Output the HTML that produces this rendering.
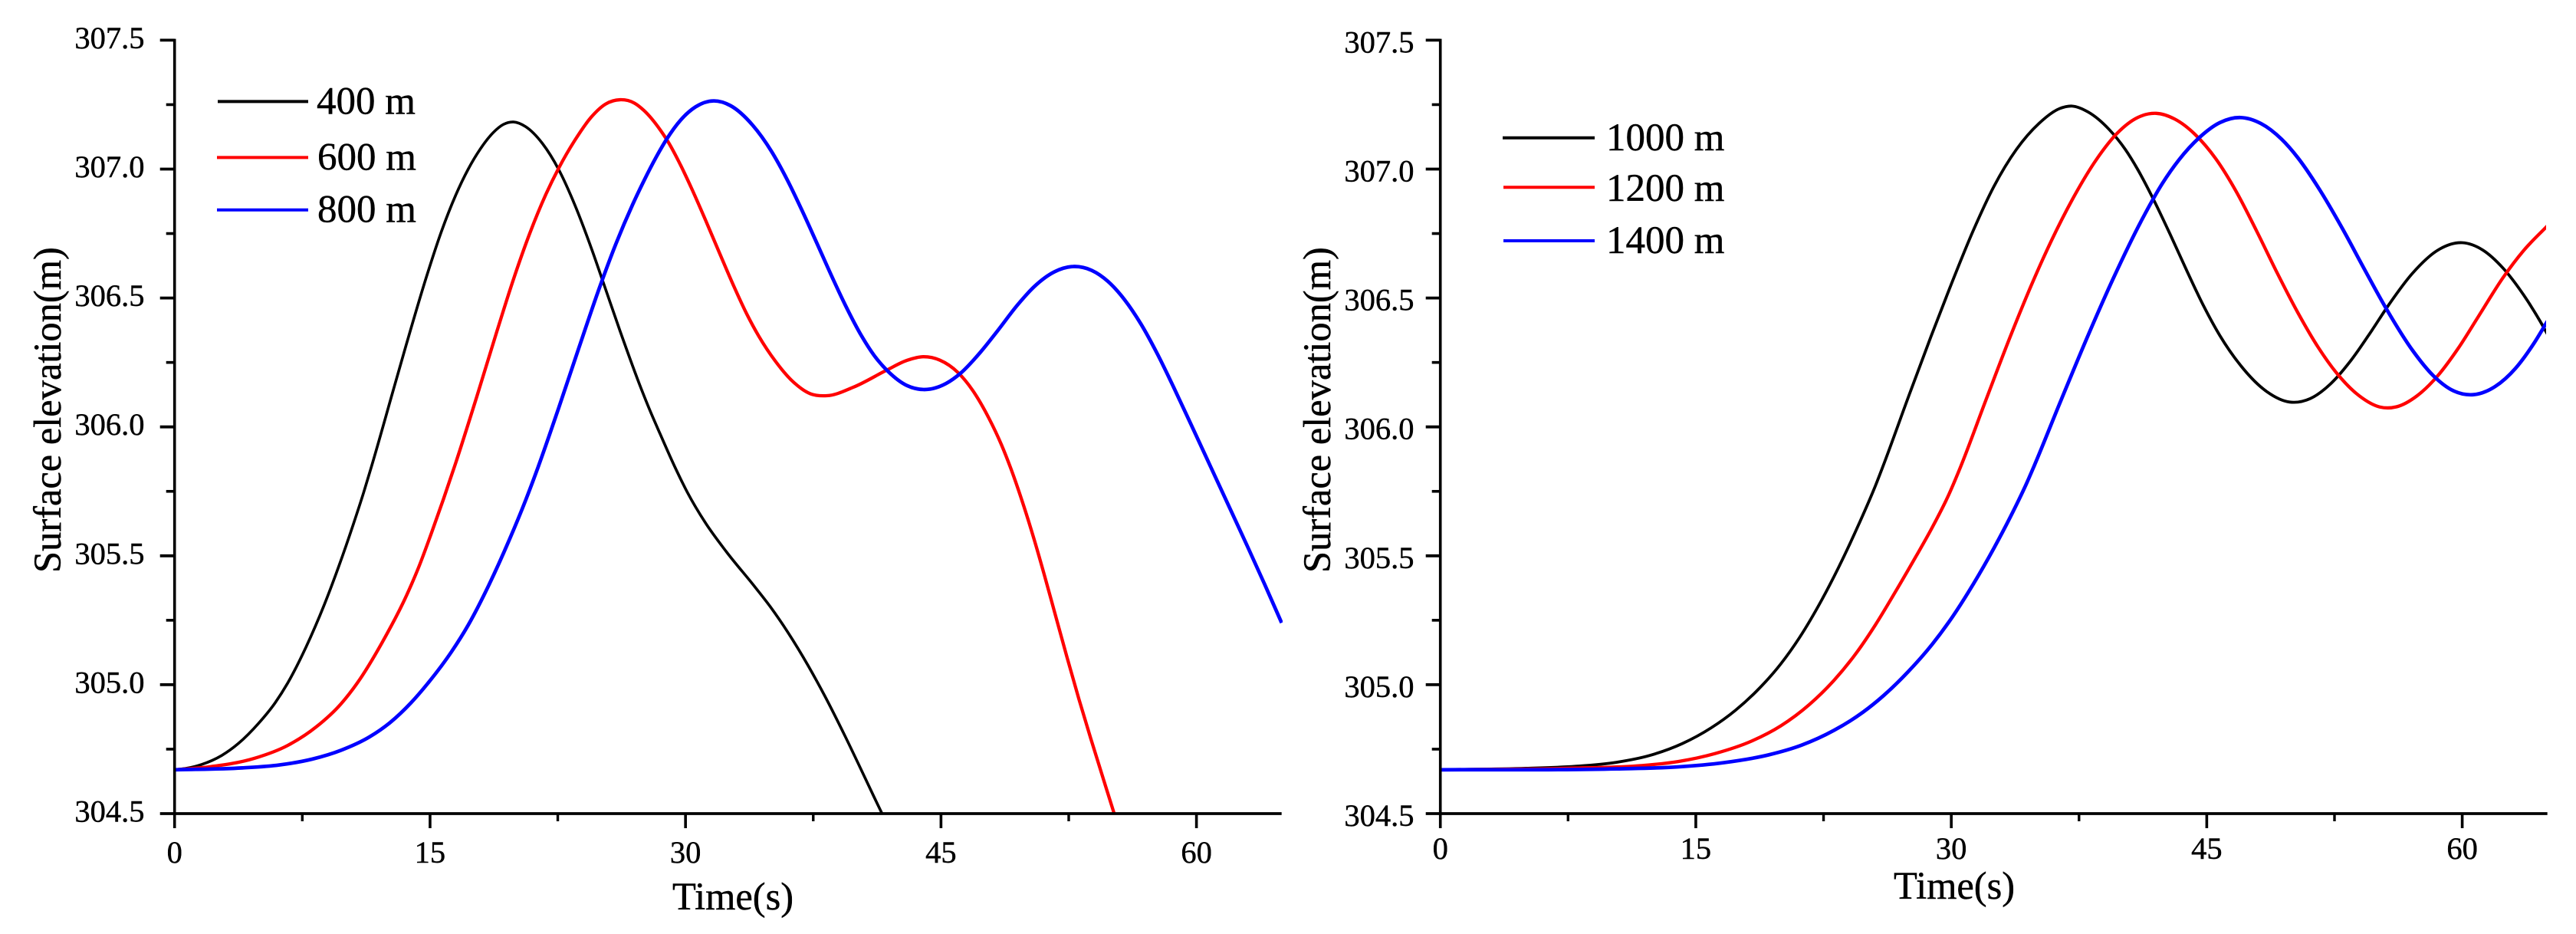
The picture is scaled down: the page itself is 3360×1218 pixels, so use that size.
<!DOCTYPE html>
<html lang="en">
<head>
<meta charset="utf-8">
<title>Surface elevation over time</title>
<style>
html,body{margin:0;padding:0;background:#fff;width:3360px;height:1218px;overflow:hidden}
svg{display:block}
text{font-family:"Liberation Serif","Times New Roman",serif;fill:#000;stroke:#000;stroke-width:0.45px}
.tick-label{font-size:40.5px}
.axis-title{font-size:50.5px}
.legend-label{font-size:51px}
</style>
</head>
<body>
<svg id="figure" width="3360" height="1218" viewBox="0 0 3360 1218" xmlns="http://www.w3.org/2000/svg">
  <rect x="0" y="0" width="3360" height="1218" fill="#fff"/>
  <defs>
    <clipPath id="clip-left"><rect x="226" y="50" width="1447" height="1013"/></clipPath>
    <clipPath id="clip-right"><rect x="1877" y="50" width="1444" height="1013"/></clipPath>
  </defs>
  <g id="panel-left">
    <g id="left-series" clip-path="url(#clip-left)"></g>
    <g id="left-axes"></g>
    <text class="axis-title" x="877" y="1186">Time(s)</text>
    <text class="axis-title" transform="translate(79 747) rotate(-90)">Surface elevation(m)</text>
    <g>
      <line x1="284" x2="402" y1="132.4" y2="132.4" stroke="#000" stroke-width="4"/>
      <text class="legend-label" x="413" y="148.5">400 m</text>
      <line x1="283" x2="402" y1="205.4" y2="205.4" stroke="#f00" stroke-width="4"/>
      <text class="legend-label" x="414" y="221.5">600 m</text>
      <line x1="283" x2="402" y1="273.8" y2="273.8" stroke="#00f" stroke-width="4"/>
      <text class="legend-label" x="414" y="289.5">800 m</text>
    </g>
  </g>
  <g id="panel-right">
    <g id="right-series" clip-path="url(#clip-right)"></g>
    <g id="right-axes"></g>
    <text class="axis-title" x="2470" y="1172">Time(s)</text>
    <text class="axis-title" transform="translate(1735 747) rotate(-90)">Surface elevation(m)</text>
    <g>
      <line x1="1960" x2="2080" y1="179.8" y2="179.8" stroke="#000" stroke-width="4"/>
      <text class="legend-label" x="2095" y="196">1000 m</text>
      <line x1="1961" x2="2080" y1="244.3" y2="244.3" stroke="#f00" stroke-width="4"/>
      <text class="legend-label" x="2095" y="262">1200 m</text>
      <line x1="1961" x2="2080" y1="314" y2="314" stroke="#00f" stroke-width="4"/>
      <text class="legend-label" x="2095" y="330">1400 m</text>
    </g>
  </g>
</svg>
<script>
// Tick labels
var xTickLabels = [0, 15, 30, 45, 60];
var xMinorTicks = [7.5, 22.5, 37.5, 52.5];
var yTickLabels = ["304.5", "305.0", "305.5", "306.0", "306.5", "307.0", "307.5"];
var yMinorTicks = [304.75, 305.25, 305.75, 306.25, 306.75, 307.25];

// Left chart series (time in s, surface elevation in m)
var t400 = [0,0.72,1.57,2.77,3.74,4.94,5.9,6.63,7.72,8.8,9.65,10.5,11.1,11.57,12.9,13.6,14.83,15.67,16.5,17.24,17.96,18.7,19.3,19.9,20.6,21.6,22.55,23.5,24.5,25.2,26.16,27.4,27.93,28.5,29.37,30.1,31.18,32.39,34.07,35.04,36,37.2,38.17,39.38,40.34,41.06,41.54];
var v400 = [304.67,304.676,304.69,304.726,304.77,304.85,304.94,305,305.14,305.32,305.457,305.625,305.75,305.844,306.143,306.33,306.59,306.755,306.905,306.99,307.08,307.14,307.17,307.18,307.165,307.1,307,306.86,306.686,306.56,306.36,306.14,306.07,305.97,305.86,305.734,305.624,305.52,305.38,305.3,305.2,305.08,304.95,304.805,304.666,304.562,304.5];
var t600 = [0,2.05,4.7,6.63,8.32,9.77,10.73,12.18,13.62,14.35,15.07,15.79,16.5,17.72,18.93,19.89,20.86,21.82,22.55,23.5,24.47,25.3,26.16,27,27.56,28.53,29,29.6,30.34,31.18,32.03,32.87,33.6,34.3,35.28,36.37,37.33,38.3,39.86,41.8,43,43.96,44.93,46,46.86,47.8,48.54,49.1,49.87,50.47,51.07,51.67,52.4,53.1,53.84,55.17];
var v600 = [304.67,304.68,304.712,304.764,304.84,304.926,305.01,305.163,305.348,305.45,305.596,305.73,305.844,306.11,306.374,306.57,306.755,306.905,307,307.1,307.21,307.25,307.27,307.25,307.23,307.15,307.1,307.03,306.93,306.8,306.67,306.54,306.44,306.35,306.26,306.17,306.13,306.12,306.15,306.22,306.26,306.27,306.26,306.21,306.14,306.04,305.92,305.845,305.694,305.556,305.43,305.28,305.105,304.943,304.78,304.5];
var t800 = [0,3.98,6.15,8.08,9.77,11.45,12.66,13.87,14.83,16.28,17.24,18.45,19.65,20.62,21.34,22.55,23.75,24.96,25.92,26.9,27.56,28.29,28.89,29.73,30.58,31.66,32.63,33.95,35.04,36,36.85,37.7,38.66,39.38,40.34,41.07,41.91,43,43.96,45.29,46.13,47.34,48.3,49.5,50.47,51.68,52.76,53.85,54.8,55.78,56.74,57.7,58.67,59.64,60.84,62.05,63,64,65];
var v800 = [304.67,304.676,304.69,304.712,304.747,304.8,304.85,304.93,305.01,305.128,305.232,305.382,305.567,305.717,305.844,306.07,306.3,306.56,306.7,306.87,306.95,307.04,307.12,307.19,307.24,307.26,307.25,307.17,307.07,306.95,306.84,306.71,306.58,306.47,306.35,306.28,306.22,306.16,306.14,306.17,306.21,306.29,306.37,306.47,306.55,306.6,306.62,306.61,306.56,306.49,306.4,306.29,306.14,306.02,305.845,305.67,305.53,305.4,305.24];

// Right chart series
var t1000 = [0,5.04,7.93,10.34,12.27,14.2,15.89,17.34,18.54,19.99,21.08,22.4,23.37,24.57,25.54,25.97,27.47,28.8,29.86,31.3,32.5,33.83,35.16,36.37,37.09,38.05,39.26,40.22,40.95,41.9,42.88,43.84,44.8,45.77,46.98,48.54,49.87,51.08,52.28,53.49,54.69,55.66,57.1,58.67,60,61.2,62.4,63.6,64.58,65];
var v1000 = [304.67,304.675,304.686,304.7,304.726,304.77,304.83,304.91,304.972,305.08,305.18,305.336,305.45,305.625,305.77,305.844,306.11,306.37,306.5,306.77,306.94,307.07,307.18,307.23,307.24,307.226,307.15,307.08,306.99,306.88,306.75,306.6,306.47,306.36,306.24,306.13,306.1,306.11,306.17,306.26,306.37,306.47,306.6,306.7,306.71,306.68,306.62,306.51,306.41,306.36];
var t1200 = [0,7.93,11.8,13.96,16.13,18.3,19.99,21.68,23.12,24.45,25.54,26.74,27.95,28.88,29.86,30.53,32.03,33.47,34.68,35.88,37.09,38.54,39.74,40.95,42.03,43.12,44.32,45.53,46.74,47.94,49.15,50.35,51.56,52.64,53.97,55.17,56.14,57.35,58.55,59.76,60.96,62.4,63.6,65];
var v1200 = [304.67,304.675,304.69,304.7,304.735,304.788,304.834,304.926,305.024,305.117,305.238,305.36,305.51,305.61,305.73,305.844,306.11,306.35,306.55,306.71,306.89,307.03,307.14,307.2,307.215,307.19,307.13,307.04,306.92,306.755,306.59,306.44,306.32,306.2,306.12,306.08,306.08,306.12,306.2,306.3,306.43,306.58,306.7,306.78];
var t1400 = [0,10.34,13.96,16.6,19.27,21.2,23.12,24.81,26.02,27.47,28.88,30.1,31.3,32.5,33.47,34.44,34.87,36.37,38.05,39.5,41.19,42.4,43.36,44.56,45.77,46.98,48.18,49.39,50.35,51.56,53,54.2,55.54,57.1,58.3,59.5,60.6,61.93,63.13,64.2,65];
var v1400 = [304.67,304.675,304.68,304.7,304.73,304.764,304.822,304.897,304.955,305.06,305.15,305.267,305.394,305.532,305.648,305.786,305.844,306.11,306.34,306.58,306.81,306.94,307.03,307.12,307.18,307.2,307.18,307.11,307.04,306.93,306.77,306.62,306.45,306.3,306.2,306.14,306.13,306.15,306.23,306.32,306.41];

var NS = 'http://www.w3.org/2000/svg';
var Y_MIN = 304.5, Y_MAX = 307.5, X_MAX = 65;
var PLOT_TOP = 52.4, PLOT_BOTTOM = 1061;
var PLOT_WIDTH_PX_PER_S = 22.215;

function yScale(v) {
  return PLOT_BOTTOM - (v - Y_MIN) / (Y_MAX - Y_MIN) * (PLOT_BOTTOM - PLOT_TOP);
}
function make(tag, attrs, parent) {
  var el = document.createElementNS(NS, tag);
  for (var k in attrs) el.setAttribute(k, attrs[k]);
  parent.appendChild(el);
  return el;
}
// Removes hand-reading jitter without shrinking peaks (two-step low-pass filter).
function denoise(ts, vs) {
  var out = vs.slice();
  function pass(f) {
    var next = out.slice();
    for (var i = 1; i < out.length - 1; i++) {
      var w = (ts[i] - ts[i - 1]) / (ts[i + 1] - ts[i - 1]);
      var mid = out[i - 1] + w * (out[i + 1] - out[i - 1]);
      next[i] = out[i] + f * (mid - out[i]);
    }
    out = next;
  }
  for (var n = 0; n < 6; n++) { pass(0.5); pass(-0.52); }
  return out;
}
function smoothPath(ts, vs, xScale) {
  var ys = denoise(ts, vs).map(yScale);
  var xs = ts.map(xScale);
  var last = xs.length - 1, m = [];
  for (var i = 0; i <= last; i++) {
    if (i === 0) { m[i] = (ys[1] - ys[0]) / (xs[1] - xs[0]); continue; }
    if (i === last) { m[i] = (ys[last] - ys[last - 1]) / (xs[last] - xs[last - 1]); continue; }
    var h0 = xs[i] - xs[i - 1], h1 = xs[i + 1] - xs[i];
    var s0 = (ys[i] - ys[i - 1]) / h0, s1 = (ys[i + 1] - ys[i]) / h1;
    m[i] = (s0 * h1 + s1 * h0) / (h0 + h1);
  }
  var d = 'M' + xs[0].toFixed(2) + ' ' + ys[0].toFixed(2);
  for (var j = 0; j < last; j++) {
    var h = (xs[j + 1] - xs[j]) / 3;
    d += 'C' + (xs[j] + h).toFixed(2) + ' ' + (ys[j] + m[j] * h).toFixed(2) + ' ' +
         (xs[j + 1] - h).toFixed(2) + ' ' + (ys[j + 1] - m[j + 1] * h).toFixed(2) + ' ' +
         xs[j + 1].toFixed(2) + ' ' + ys[j + 1].toFixed(2);
  }
  return d;
}
function drawAxes(prefix, x0, labelRight, yLabelOffset, xLabelBaseline) {
  var g = document.getElementById(prefix + '-axes');
  var xScale = function (t) { return x0 + t * PLOT_WIDTH_PX_PER_S; };
  function line(x1, y1, x2, y2, w) {
    return make('line', { x1: x1, y1: y1, x2: x2, y2: y2, stroke: '#000', 'stroke-width': w }, g);
  }
  var yAxis = line(x0, PLOT_TOP - 1.8, x0, PLOT_BOTTOM + 1.8, 3.6);
  
  
  var xAxis = line(x0 - 1.8, PLOT_BOTTOM, xScale(X_MAX), PLOT_BOTTOM, 3.8);
  
  

  yTickLabels.forEach(function (lab) {
    var y = yScale(parseFloat(lab));
    var tick = line(x0 - 19, y, x0, y, 3.8);
    
    
    var txt = make('text', { x: labelRight, y: y + yLabelOffset, 'text-anchor': 'end', 'class': 'tick-label' }, g);
    
    
    txt.textContent = lab;
  });
  yMinorTicks.forEach(function (v) {
    var y = yScale(v);
    var tick = line(x0 - 11, y, x0, y, 3.6);
    
    
  });
  xTickLabels.forEach(function (lab) {
    var x = xScale(lab);
    var tick = line(x, PLOT_BOTTOM, x, PLOT_BOTTOM + 19, 3.6);
    
    
    var txt = make('text', { x: x, y: xLabelBaseline, 'text-anchor': 'middle', 'class': 'tick-label' }, g);
    
    
    txt.textContent = String(lab);
  });
  xMinorTicks.forEach(function (t) {
    var x = xScale(t);
    var tick = line(x, PLOT_BOTTOM, x, PLOT_BOTTOM + 10, 3.4);
    
    
  });
  return xScale;
}
function drawSeries(prefix, xScale, ts, vs, color, width, name) {
  var g = document.getElementById(prefix + '-series');
  var p = make('path', { d: smoothPath(ts, vs, xScale), fill: 'none', stroke: color, 'stroke-width': width, 'stroke-linejoin': 'round' }, g);
  
  
}

var xLeft = drawAxes('left', 227.7, 188.5, 10.5, 1125);
var xRight = drawAxes('right', 1878.7, 1844.5, 16, 1120);

drawSeries('left', xLeft, t400, v400, '#000', 3.6, 'series-400m');
drawSeries('left', xLeft, t600, v600, '#f00', 4.3, 'series-600m');
drawSeries('left', xLeft, t800, v800, '#00f', 4.7, 'series-800m');
drawSeries('right', xRight, t1000, v1000, '#000', 3.8, 'series-1000m');
drawSeries('right', xRight, t1200, v1200, '#f00', 4.3, 'series-1200m');
drawSeries('right', xRight, t1400, v1400, '#00f', 4.7, 'series-1400m');
</script>
</body>
</html>
